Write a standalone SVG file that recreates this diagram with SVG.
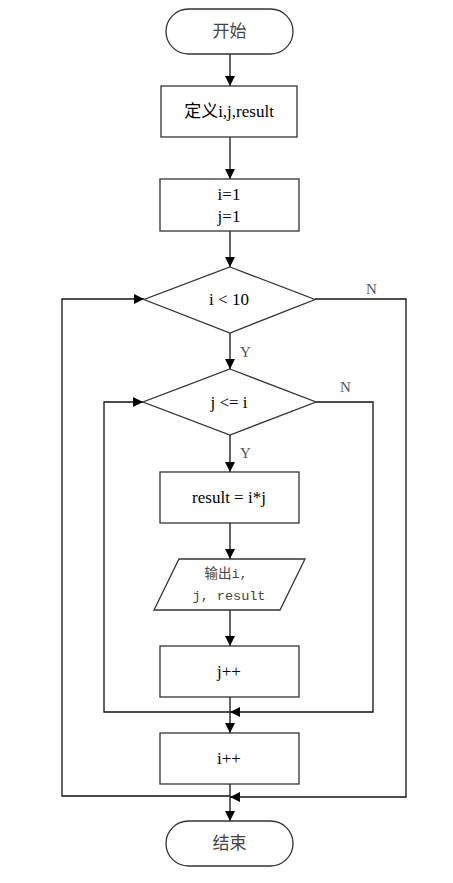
<svg xmlns="http://www.w3.org/2000/svg" width="453" height="883" viewBox="0 0 453 883">
<defs>
<marker id="ah" markerUnits="userSpaceOnUse" markerWidth="11" markerHeight="10" refX="10" refY="5" orient="auto">
<path d="M0,0 L10,5 L0,10 z" fill="#000"/>
</marker>
<style>
.s{fill:#fff;stroke:#333;stroke-width:1.3}
.c{fill:none;stroke:#111;stroke-width:1.3}
.a{marker-end:url(#ah)}
.t{font-family:"Liberation Serif","Noto Sans CJK SC",serif;font-size:17px;fill:#000;text-anchor:middle}
.g{fill:#444}
.m{font-family:"Liberation Mono","Noto Sans CJK SC",monospace;font-size:13.5px;fill:#444;text-anchor:middle}
.l{font-family:"Liberation Serif",serif;font-size:15px;fill:#555}
</style>
</defs>
<rect width="453" height="883" fill="#fff"/>
<g id="connectors">
<path class="c a" d="M230,54 V86"/>
<path class="c a" d="M230,137 V179"/>
<path class="c a" d="M230,231 V267"/>
<path class="c a" d="M230,333 V369"/>
<path class="c a" d="M230,435 V472"/>
<path class="c a" d="M230,523 V559"/>
<path class="c a" d="M230,610 V646"/>
<path class="c a" d="M230,697 V712 H104 V402 H143"/>
<path class="c a" d="M316,402 H373 V712 H230"/>
<path class="c a" d="M230,712 V733"/>
<path class="c a" d="M230,784 V796 H62 V299 H144"/>
<path class="c a" d="M315,299 H406 V797 H230"/>
<path class="c a" d="M230,797 V821"/>
<text class="l" x="240" y="357">Y</text>
<text class="l" x="366" y="294">N</text>
<text class="l" x="240" y="458">Y</text>
<text class="l" x="340" y="392">N</text>
</g>
<g id="start">
<rect class="s" x="166" y="9" width="127" height="45" rx="22.5"/>
<text class="t g" x="229.5" y="37">开始</text>
</g>
<g id="define">
<rect class="s" x="161" y="86" width="136" height="51"/>
<text class="t" x="229" y="117">定义i,j,result</text>
</g>
<g id="init">
<rect class="s" x="160" y="179" width="139" height="52"/>
<text class="t" x="229" y="200">i=1</text>
<text class="t" x="229" y="222">j=1</text>
</g>
<g id="cond_i">
<polygon class="s" points="230,267 315,299.5 230,333 144,299.5"/>
<text class="t" x="229" y="305">i &lt; 10</text>
</g>
<g id="cond_j">
<polygon class="s" points="230,369 316,402 230,435 143,402"/>
<text class="t" x="229" y="408">j &lt;= i</text>
</g>
<g id="calc">
<rect class="s" x="160" y="472" width="139" height="51"/>
<text class="t" x="229" y="503">result = i*j</text>
</g>
<g id="output">
<polygon class="s" points="179,559 305,559 280,610 154,610"/>
<text class="m" x="226" y="578">输出i,</text>
<text class="m" x="229" y="600">j, result</text>
</g>
<g id="jinc">
<rect class="s" x="160" y="646" width="139" height="51"/>
<text class="t" x="229" y="677">j++</text>
</g>
<g id="iinc">
<rect class="s" x="160" y="733" width="139" height="51"/>
<text class="t" x="229" y="764">i++</text>
</g>
<g id="end">
<rect class="s" x="166" y="821" width="127" height="45" rx="22.5"/>
<text class="t g" x="229.5" y="849">结束</text>
</g>
</svg>
